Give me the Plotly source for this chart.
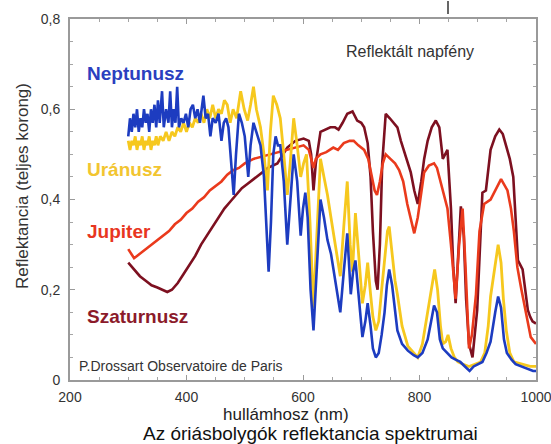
import plotly.graph_objects as go

# ---------------- data ----------------
nep_wl = [300, 303, 306, 309, 312, 315, 318, 321, 324, 327, 330, 333, 336, 339, 342, 345, 348, 351, 354, 358,
          361, 365, 369, 372, 375, 378, 381, 384, 387, 391, 395, 399, 403, 407, 411, 415, 419, 423, 429, 433,
          437, 441, 445, 450, 455, 460, 464, 468, 472, 476, 481, 485, 490, 495, 500, 506, 510, 515, 520, 527,
          533, 537, 541, 545, 549, 553, 557, 561, 567, 573, 578, 584, 590, 596, 600, 604, 608, 613, 618, 623,
          630, 636, 642, 648, 652, 658, 664, 670, 676, 682, 686, 690, 696, 702, 707, 711, 716, 720, 725, 730,
          735, 740, 744, 748, 753, 758, 762, 770, 780, 790, 797, 805, 814, 820, 825, 830, 835, 840, 848, 855,
          862, 870, 878, 886, 893, 900, 908, 915, 922, 930, 935, 940, 945, 950, 958, 965, 975, 985, 995, 1000]
nep_r = [0.54, 0.58, 0.55, 0.59, 0.56, 0.60, 0.55, 0.58, 0.56, 0.60, 0.57, 0.59, 0.55, 0.60, 0.57, 0.61, 0.56, 0.62, 0.57, 0.64,
         0.56, 0.60, 0.57, 0.64, 0.56, 0.60, 0.57, 0.65, 0.56, 0.58, 0.57, 0.59, 0.56, 0.60, 0.61, 0.58, 0.60, 0.57, 0.63, 0.58,
         0.59, 0.54, 0.58, 0.57, 0.59, 0.53, 0.57, 0.58, 0.56, 0.50, 0.41, 0.50, 0.59, 0.57, 0.54, 0.45, 0.52, 0.57, 0.55, 0.52,
         0.45, 0.33, 0.24, 0.35, 0.50, 0.54, 0.52, 0.52, 0.44, 0.30, 0.40, 0.50, 0.44, 0.32, 0.38, 0.415, 0.36, 0.20, 0.11, 0.22,
         0.40, 0.36, 0.31, 0.28, 0.245, 0.20, 0.15, 0.24, 0.325, 0.19, 0.24, 0.265, 0.18, 0.095, 0.13, 0.17, 0.12, 0.07, 0.05, 0.06,
         0.10, 0.15, 0.21, 0.245, 0.21, 0.15, 0.11, 0.08, 0.065, 0.055, 0.05, 0.06, 0.09, 0.13, 0.165, 0.15, 0.09, 0.07, 0.06, 0.05,
         0.045, 0.04, 0.03, 0.02, 0.03, 0.035, 0.04, 0.06, 0.085, 0.15, 0.185, 0.16, 0.09, 0.06, 0.045, 0.035, 0.03, 0.025, 0.02, 0.02]

ura_wl = [300, 303, 306, 309, 312, 315, 318, 321, 324, 327, 330, 333, 336, 339, 342, 345, 348, 351, 355, 360,
          365, 370, 375, 380, 385, 390, 395, 400, 405, 410, 415, 420, 425, 430, 435, 440, 445, 450, 455, 460,
          465, 470, 475, 480, 486, 493, 499, 505, 510, 515, 520, 527, 533, 539, 544, 549, 555, 561, 567, 573,
          578, 584, 590, 596, 601, 606, 612, 618, 623, 630, 636, 642, 648, 654, 659, 664, 670, 676, 681, 685,
          690, 695, 702, 707, 711, 716, 720, 725, 730, 735, 740, 745, 748, 753, 758, 762, 770, 780, 790, 797,
          805, 814, 820, 826, 831, 836, 840, 845, 849, 854, 860, 866, 875, 885, 895, 905, 912, 918, 922, 928,
          935, 940, 944, 949, 955, 962, 975, 990, 1000]
ura_r = [0.53, 0.51, 0.53, 0.52, 0.54, 0.51, 0.53, 0.52, 0.54, 0.51, 0.53, 0.52, 0.54, 0.51, 0.53, 0.52, 0.54, 0.52, 0.54, 0.53,
         0.55, 0.53, 0.55, 0.54, 0.56, 0.55, 0.57, 0.55, 0.57, 0.56, 0.58, 0.57, 0.59, 0.57, 0.60, 0.58, 0.61, 0.58, 0.60, 0.59,
         0.62, 0.61, 0.57, 0.60, 0.58, 0.64, 0.60, 0.575, 0.61, 0.65, 0.60, 0.56, 0.50, 0.42, 0.55, 0.63, 0.61, 0.58, 0.50, 0.41,
         0.48, 0.58, 0.52, 0.45, 0.48, 0.50, 0.35, 0.16, 0.30, 0.49, 0.45, 0.41, 0.36, 0.31, 0.27, 0.23, 0.34, 0.44, 0.30, 0.24,
         0.37, 0.28, 0.17, 0.21, 0.26, 0.19, 0.14, 0.11, 0.13, 0.20, 0.27, 0.33, 0.34, 0.28, 0.22, 0.19, 0.12, 0.075, 0.06, 0.05,
         0.08, 0.15, 0.20, 0.245, 0.20, 0.12, 0.08, 0.085, 0.10, 0.07, 0.05, 0.04, 0.035, 0.03, 0.035, 0.04, 0.06, 0.12, 0.185, 0.24,
         0.30, 0.26, 0.18, 0.11, 0.06, 0.04, 0.035, 0.03, 0.03]

jup_wl = [300, 305, 310, 315, 320, 330, 340, 350, 360, 370, 380, 390, 400, 410, 420, 430, 440, 450, 460, 470,
          480, 490, 500, 515, 530, 545, 560, 575, 590, 601, 610, 614, 618, 622, 630, 640, 652, 660, 670, 680,
          687, 695, 705, 712, 718, 723, 727, 732, 737, 742, 750, 758, 765, 772, 779, 785, 791, 797, 803, 808,
          816, 825, 830, 836, 841, 848, 854, 862, 868, 874, 879, 885, 890, 897, 903, 911, 922, 930, 940, 951,
          957, 962, 968, 975, 982, 991, 1000]
jup_r = [0.29, 0.28, 0.27, 0.275, 0.28, 0.29, 0.30, 0.31, 0.32, 0.33, 0.345, 0.355, 0.37, 0.38, 0.395, 0.405, 0.42, 0.43, 0.44, 0.455,
         0.465, 0.47, 0.48, 0.49, 0.495, 0.50, 0.505, 0.51, 0.515, 0.52, 0.51, 0.49, 0.47, 0.49, 0.50, 0.505, 0.515, 0.51, 0.525, 0.53,
         0.53, 0.52, 0.51, 0.49, 0.45, 0.42, 0.41, 0.44, 0.48, 0.50, 0.49, 0.48, 0.465, 0.44, 0.39, 0.355, 0.325, 0.36, 0.42, 0.46,
         0.475, 0.48, 0.47, 0.44, 0.42, 0.38, 0.30, 0.18, 0.30, 0.38, 0.25, 0.07, 0.10, 0.19, 0.33, 0.39, 0.40, 0.42, 0.445, 0.42,
         0.38, 0.33, 0.25, 0.20, 0.15, 0.095, 0.08]

sat_wl = [300, 310, 320, 330, 340, 350, 360, 367, 375, 385, 395, 405, 415, 425, 435, 445, 455, 465, 475, 485,
          495, 505, 515, 527, 540, 556, 573, 587, 601, 610, 614, 618, 622, 630, 640, 647, 655, 661, 668, 676,
          685, 693, 700, 705, 711, 716, 720, 725, 728, 732, 736, 742, 749, 756, 762, 768, 775, 785, 791, 797,
          803, 808, 814, 821, 828, 834, 840, 848, 854, 858, 862, 867, 871, 876, 880, 885, 891, 899, 904, 908,
          914, 922, 930, 937, 943, 949, 955, 961, 965, 969, 977, 981, 986, 990, 994, 1000]
sat_r = [0.26, 0.245, 0.23, 0.22, 0.21, 0.205, 0.20, 0.195, 0.20, 0.215, 0.235, 0.255, 0.275, 0.30, 0.32, 0.34, 0.36, 0.38, 0.395, 0.41,
         0.425, 0.435, 0.445, 0.455, 0.47, 0.48, 0.515, 0.53, 0.535, 0.53, 0.50, 0.42, 0.48, 0.55, 0.555, 0.56, 0.56, 0.555, 0.57, 0.59,
         0.595, 0.575, 0.57, 0.56, 0.525, 0.45, 0.33, 0.22, 0.20, 0.30, 0.48, 0.59, 0.58, 0.57, 0.56, 0.53, 0.50, 0.46, 0.42, 0.39,
         0.44, 0.49, 0.53, 0.56, 0.575, 0.56, 0.49, 0.51, 0.38, 0.25, 0.17, 0.30, 0.385, 0.32, 0.18, 0.08, 0.05, 0.155, 0.30, 0.415,
         0.42, 0.51, 0.54, 0.555, 0.545, 0.52, 0.49, 0.45, 0.36, 0.265, 0.245, 0.20, 0.155, 0.14, 0.13, 0.125]

x_ticks = [200, 400, 600, 800, 1000]
x_tick_text = ["200", "400", "600", "800", "1000"]
y_ticks = [0, 0.2, 0.4, 0.6, 0.8]
y_tick_text = ["0", "0,2", "0,4", "0,6", "0,8"]

# ---------------- figure ----------------
FONT = "Liberation Sans, Arial, sans-serif"
fig = go.Figure()

series = [
    ("Szaturnusz", sat_wl, sat_r, "#7d1020", 2.6),
    ("Jupiter", jup_wl, jup_r, "#ea3a1c", 2.6),
    ("Uránusz", ura_wl, ura_r, "#f6c81e", 2.8),
    ("Neptunusz", nep_wl, nep_r, "#1d3cc0", 2.6),
]
for name, wl, r, col, w in series:
    fig.add_trace(go.Scatter(x=wl, y=r, mode="lines", name=name,
                             line=dict(color=col, width=w), showlegend=False))

axis_common = dict(showline=True, linecolor="#9a9a9a", linewidth=2, mirror="ticks",
                   ticks="inside", ticklen=5, tickcolor="#9a9a9a", showgrid=False, zeroline=False,
                   automargin=False, ticklabeloverflow="allow",
                   tickfont=dict(family=FONT, size=14, color="#333333"))
fig.update_xaxes(range=[200, 1000], tickvals=x_ticks, ticktext=x_tick_text, ticklabelstandoff=3,
                 minor=dict(dtick=50, ticks="inside", ticklen=3, tickcolor="#a5a5a5"),
                 **axis_common)
fig.update_yaxes(range=[0, 0.8], tickvals=y_ticks, ticktext=y_tick_text, ticklabelstandoff=5,
                 minor=dict(dtick=0.05, ticks="inside", ticklen=3, tickcolor="#a5a5a5"),
                 **axis_common)

labels = [
    ("Neptunusz", 226, 0.68, "#2b3fbf"),
    ("Uránusz", 226, 0.466, "#f2c530"),
    ("Jupiter", 226, 0.328, "#e8361f"),
    ("Szaturnusz", 226, 0.14, "#8b1a2a"),
]
for txt, x, y, col in labels:
    fig.add_annotation(x=x, y=y, text=f"<b>{txt}</b>", showarrow=False, xanchor="left", yanchor="middle",
                       font=dict(family=FONT, size=19, color=col))

fig.add_annotation(x=670, y=0.727, text="Reflektált napfény", showarrow=False, xanchor="left", yanchor="middle",
                   font=dict(family=FONT, size=16, color="#333333"))
fig.add_annotation(x=212, y=0.031, text="P.Drossart Observatoire de Paris", showarrow=False, xanchor="left",
                   yanchor="middle", font=dict(family=FONT, size=14, color="#333333"))

# axis titles and caption placed in paper coordinates (plot area: 70..536 px, 19..380 px)
fig.add_annotation(xref="paper", yref="paper", x=(286 - 70) / 466, y=-(414 - 380) / 361,
                   xanchor="center", yanchor="middle", text="hullámhosz (nm)", showarrow=False,
                   font=dict(family=FONT, size=17, color="#222222"))
fig.add_annotation(xref="paper", yref="paper", x=(310 - 70) / 466, y=-(433 - 380) / 361,
                   xanchor="center", yanchor="middle", text="Az óriásbolygók reflektancia spektrumai",
                   showarrow=False, font=dict(family=FONT, size=19, color="#111111"))
fig.add_annotation(xref="paper", yref="paper", x=-(70 - 22) / 466, y=(380 - 186) / 361,
                   xanchor="center", yanchor="middle", text="Reflektancia (teljes korong)", textangle=-90,
                   showarrow=False, font=dict(family=FONT, size=17, color="#333333"))

# small stray mark above the frame in the reference
fig.add_shape(type="line", xref="paper", yref="paper", x0=(448 - 70) / 466, x1=(448 - 70) / 466,
              y0=(380 - 1) / 361, y1=(380 - 14) / 361, line=dict(color="#333333", width=1.5))

fig.update_layout(width=551, height=444, margin=dict(l=70, r=15, t=19, b=64, autoexpand=False),
                  paper_bgcolor="white", plot_bgcolor="white")

fig.write_html("out.html", config={"displayModeBar": False},
               post_script="document.body.style.margin='0';document.body.style.overflow='hidden';")
